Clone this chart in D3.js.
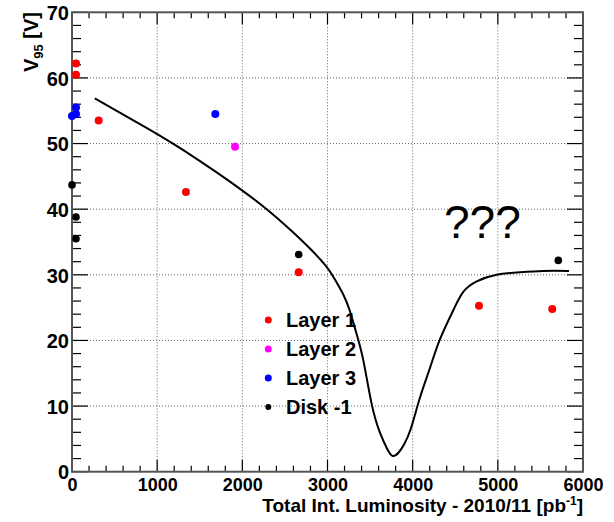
<!DOCTYPE html>
<html>
<head>
<meta charset="utf-8">
<script src="https://cdn.jsdelivr.net/npm/d3@7"></script>
<style>
  html, body { margin: 0; padding: 0; background: #fff; }
  svg { display: block; }
  text { font-family: "Liberation Sans", Arial, Helvetica, sans-serif; }
</style>
</head>
<body>
<svg id="chart" width="614" height="522"></svg>
<script>
// Measured V95 per module group vs integrated luminosity
const layer1 = [[47, 62.2], [47, 60.5], [313, 53.5], [1338, 42.6], [2662, 30.4], [4779, 25.3], [5639, 24.8]];
const layer2 = [[1914, 49.5]];
const layer3 = [[0, 54.2], [47, 55.5], [47, 54.5], [1683, 54.5]];
const disk1 = [[0, 43.7], [47, 38.8], [47, 35.5], [2662, 33.1], [5710, 32.2]];

// Expected trend curve (sampled)
const trend = [[268, 56.9], [916, 52.1], [1307, 49.0], [1699, 45.6], [1993, 42.9], [2286, 40.0],
  [2560, 36.9], [2794, 34.0], [2990, 31.2], [3100, 29.0], [3185, 27.0], [3260, 24.6],
  [3335, 21.3], [3420, 17.0], [3519, 10.3], [3617, 5.9], [3700, 3.5], [3766, 2.4],
  [3840, 3.0], [3900, 4.2], [3977, 6.5], [4086, 11.3], [4203, 15.8], [4321, 20.2],
  [4477, 24.6], [4594, 27.4], [4752, 29.0], [4986, 30.0], [5260, 30.4], [5534, 30.6], [5836, 30.6]];

const xTicks = [0, 1000, 2000, 3000, 4000, 5000, 6000];
const yTicks = [0, 10, 20, 30, 40, 50, 60, 70];

const series = [
  { name: "Layer 1", color: "#ff0000", data: layer1 },
  { name: "Layer 2", color: "#ff00ff", data: layer2 },
  { name: "Layer 3", color: "#0000ff", data: layer3 },
  { name: "Disk -1", color: "#000000", data: disk1 }
];

const svg = d3.select("#chart");
const L = 72, R = 583, T = 12.3, B = 471.7;

const x = d3.scaleLinear().domain([0, 6000]).range([L, R]);
const y = d3.scaleLinear().domain([0, 70]).range([B, T]);

// Grid
const grid = svg.append("g").attr("stroke", "#666").attr("stroke-width", 1)
  .attr("stroke-dasharray", "1,2");
xTicks.slice(1, -1).forEach(v => {
  grid.append("line").attr("x1", x(v)).attr("x2", x(v)).attr("y1", T).attr("y2", B);
});
yTicks.slice(1, -1).forEach(v => {
  grid.append("line").attr("x1", L).attr("x2", R).attr("y1", y(v)).attr("y2", y(v));
});

// Axes (ticks on all four sides, pointing inward)
const xMinor = d3.range(0, 6001, 200);
const yMinor = d3.range(0, 70.1, 2);

const axBottom = d3.axisBottom(x).tickValues(xTicks).tickSize(0).tickPadding(0).tickFormat(d3.format("d"));
const gB = svg.append("g").attr("transform", `translate(0,${B})`).call(axBottom);
gB.select(".domain").remove();
gB.selectAll("text").attr("dy", null).attr("y", 19.5).attr("font-size", 18)
  .attr("font-weight", "bold").attr("fill", "#000");

const axLeft = d3.axisLeft(y).tickValues(yTicks).tickSize(0).tickPadding(0);
const gL = svg.append("g").attr("transform", `translate(${L},0)`).call(axLeft);
gL.select(".domain").remove();
gL.selectAll("text").attr("x", -3).attr("dy", "0.36em").attr("font-size", 20)
  .attr("font-weight", "bold").attr("fill", "#000");

const ticks = svg.append("g").attr("stroke", "#000").attr("stroke-width", 1.2);
xMinor.forEach(v => {
  const len = v % 1000 === 0 ? 12 : 6;
  ticks.append("line").attr("x1", x(v)).attr("x2", x(v)).attr("y1", B).attr("y2", B - len);
  ticks.append("line").attr("x1", x(v)).attr("x2", x(v)).attr("y1", T).attr("y2", T + len);
});
yMinor.forEach(v => {
  const len = v % 10 === 0 ? 16 : 9;
  ticks.append("line").attr("x1", L).attr("x2", L + len).attr("y1", y(v)).attr("y2", y(v));
  ticks.append("line").attr("x1", R).attr("x2", R - len).attr("y1", y(v)).attr("y2", y(v));
});

// Frame
svg.append("rect").attr("x", L).attr("y", T).attr("width", R - L).attr("height", B - T)
  .attr("fill", "none").attr("stroke", "#555").attr("stroke-width", 2);

// Trend curve
svg.append("path").datum(trend)
  .attr("fill", "none").attr("stroke", "#000").attr("stroke-width", 2)
  .attr("d", d3.line().x(d => x(d[0])).y(d => y(d[1])).curve(d3.curveNatural));

// Markers
series.forEach(s => {
  svg.append("g").selectAll("circle").data(s.data).join("circle")
    .attr("cx", d => x(d[0])).attr("cy", d => y(d[1]))
    .attr("r", s.name === "Disk -1" ? 3.8 : 4).attr("fill", s.color);
});

// Legend
const leg = svg.append("g");
series.forEach((s, i) => {
  const ly = 320 + i * 29;
  leg.append("circle").attr("cx", 268.3).attr("cy", ly).attr("r", s.name === "Disk -1" ? 3 : 3.5).attr("fill", s.color);
  leg.append("text").attr("x", 286).attr("y", ly + 6.5).attr("font-size", 20)
    .attr("font-weight", "bold").text(s.name);
});

// Annotation
svg.append("text").attr("x", 444).attr("y", 238).attr("font-size", 46).text("???");

// Axis titles
svg.append("text").attr("x", R).attr("y", 512).attr("text-anchor", "end")
  .attr("font-size", 19).attr("font-weight", "bold")
  .call(t => {
    t.append("tspan").text("Total Int. Luminosity - 2010/11 [pb");
    t.append("tspan").attr("dy", -7).attr("font-size", 12).text("-1");
    t.append("tspan").attr("dy", 7).text("]");
  });

svg.append("text").attr("transform", "translate(38,12) rotate(-90)").attr("text-anchor", "end")
  .attr("font-size", 20).attr("font-weight", "bold")
  .call(t => {
    t.append("tspan").text("V");
    t.append("tspan").attr("dy", 5).attr("font-size", 13).text("95");
    t.append("tspan").attr("dy", -5).text(" [V]");
  });
</script>
</body>
</html>
